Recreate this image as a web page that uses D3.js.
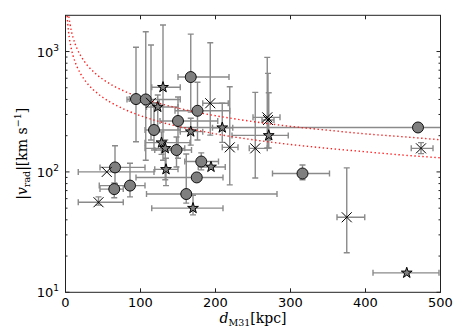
<!DOCTYPE html>
<html><head><meta charset="utf-8">
<script src="https://cdn.jsdelivr.net/npm/d3@7"></script>
<style>body{margin:0;background:#fff}svg{display:block}</style>
</head><body>
<script>
// [d_M31 (kpc), |v_rad| (km/s), dLow, dHigh, vLow, vHigh]
const circles = [
  [94, 403, 85, 103, 178, 1084],
  [107, 400, 82, 153, 125, 1460],
  [167, 614, 150, 218, 314, 1396],
  [176, 322, 146, 219, 184, 555],
  [150, 265, 126, 203, 130, 419],
  [118, 223, 106, 153, 152, 372],
  [148, 152, 119, 168, 110, 195],
  [181, 122, 159, 204, 104, 144],
  [66, 109, 46, 106, 80, 165],
  [175, 90, 94, 210, 84, 97],
  [65, 72, 46, 77, 61, 81],
  [86, 77, 45, 106, 62, 118],
  [161, 65.5, 108, 282, 55, 141],
  [316, 97, 276, 352, 86, 114],
  [470, 234, 150, 560, 234, 234]
];
const stars = [
  [130, 505, 115, 153, 125, 1660],
  [123, 346, 108, 150, 223, 435],
  [167, 216, 153, 183, 167, 279],
  [209, 233, 196, 223, 176, 372],
  [128, 175, 106, 166, 140, 215],
  [133, 157, 106, 159, 86, 184],
  [134, 105, 119, 150, 77, 130],
  [194, 110, 177, 213, 110, 110],
  [170, 50, 115, 210, 44, 64],
  [271, 201, 222, 297, 158, 455],
  [455, 14.5, 410, 498, 14.5, 14.5]
];
const crosses = [
  [193, 372, 183, 217, 202, 1183],
  [219, 160, 209, 230, 78, 510],
  [253, 157, 245, 269, 89, 458],
  [269, 284, 250, 286, 158, 895],
  [270, 270, 262, 278, 184, 659],
  [474, 157, 461, 490, 142, 175],
  [375, 42, 362, 399, 21.3, 108],
  [55, 100, 17, 118, 100, 100],
  [44, 56, 17, 77, 53, 62],
  [114, 375, 105, 125, 184, 1132]
];
// dotted curves: [d, v]
const curveHigh = [[4.5,1955],[6,1693],[8,1466],[10,1311],[13,1150],[16,1037],[20,927],[25,829],[30,757],[40,656],[50,587],[60,535],[80,464],[100,415],[125,371],[150,339],[175,313],[200,293],[250,262],[300,239],[350,222],[400,207],[450,196],[500,185]];
const curveLow = [[2.2,1977],[3,1693],[4,1466],[5,1311],[6.5,1150],[8,1037],[10,927],[12.5,829],[15,757],[20,656],[25,587],[30,535],[40,464],[50,415],[60,379],[80,328],[100,293],[125,262],[150,239],[175,222],[200,207],[250,185],[300,169],[350,157],[400,147],[450,138],[500,131]];
const xTicks = [0, 100, 200, 300, 400, 500];
const yMajor = [10, 100, 1000];
const yMajorExp = ["1", "2", "3"];

const W = 463, H = 333;
const L = 65.5, R = 440.5, T = 15.3, B = 292.3;
const svg = d3.select("body").append("svg").attr("width", W).attr("height", H);
const x = d3.scaleLinear().domain([0, 500]).range([L, R]);
const y = d3.scaleLog().domain([10, 2000]).range([B, T]);

svg.append("clipPath").attr("id", "clip").append("rect")
  .attr("x", L).attr("y", T).attr("width", R - L).attr("height", B - T);
const plot = svg.append("g").attr("clip-path", "url(#clip)");

const ebColor = "#8a8a8a", cap = 3;
function errorbars(data) {
  const g = plot.append("g").attr("stroke", ebColor).attr("stroke-width", 1.4).attr("fill", "none");
  data.forEach(d => {
    const cx = x(d[0]), cy = y(d[1]);
    if (d[2] !== d[3]) {
      const x0 = x(d[2]), x1 = x(d[3]);
      g.append("line").attr("x1", x0).attr("x2", x1).attr("y1", cy).attr("y2", cy);
      g.append("line").attr("x1", x0).attr("x2", x0).attr("y1", cy - cap).attr("y2", cy + cap);
      g.append("line").attr("x1", x1).attr("x2", x1).attr("y1", cy - cap).attr("y2", cy + cap);
    }
    if (d[4] !== d[5]) {
      const y0 = y(d[4]), y1 = y(d[5]);
      g.append("line").attr("x1", cx).attr("x2", cx).attr("y1", y0).attr("y2", y1);
      g.append("line").attr("x1", cx - cap).attr("x2", cx + cap).attr("y1", y0).attr("y2", y0);
      g.append("line").attr("x1", cx - cap).attr("x2", cx + cap).attr("y1", y1).attr("y2", y1);
    }
  });
}
errorbars(circles);
errorbars(stars);
errorbars(crosses);

const line = d3.line().x(d => x(d[0])).y(d => y(d[1])).curve(d3.curveMonotoneX);
[curveHigh, curveLow].forEach(c => {
  plot.append("path").datum(c).attr("d", line).attr("fill", "none")
    .attr("stroke", "#ff2020").attr("stroke-width", 1.4).attr("stroke-dasharray", "1.4,2.6");
});

plot.append("g").selectAll("circle").data(circles).join("circle")
  .attr("cx", d => x(d[0])).attr("cy", d => y(d[1])).attr("r", 5.5)
  .attr("fill", "#7f7f7f").attr("stroke", "#000").attr("stroke-width", 0.9);
const star = d3.symbol().type(d3.symbolStar).size(36);
plot.append("g").selectAll("path").data(stars).join("path")
  .attr("transform", d => `translate(${x(d[0])},${y(d[1])})`).attr("d", star)
  .attr("fill", "#7f7f7f").attr("stroke", "#000").attr("stroke-width", 1);
const xs = 5;
plot.append("g").selectAll("path").data(crosses).join("path")
  .attr("transform", d => `translate(${x(d[0])},${y(d[1])})`)
  .attr("d", `M${-xs},${-xs}L${xs},${xs}M${-xs},${xs}L${xs},${-xs}`)
  .attr("stroke", "#000").attr("stroke-width", 1).attr("fill", "none");

// axes frame
const ax = svg.append("g");
ax.append("rect").attr("x", L).attr("y", T).attr("width", R - L).attr("height", B - T)
  .attr("fill", "none").attr("stroke", "#222").attr("stroke-width", 1);
const tk = ax.append("g").attr("stroke", "#222").attr("stroke-width", 1);
xTicks.forEach(t => {
  tk.append("line").attr("x1", x(t)).attr("x2", x(t)).attr("y1", B).attr("y2", B - 4);
  tk.append("line").attr("x1", x(t)).attr("x2", x(t)).attr("y1", T).attr("y2", T + 4);
});
const yMinor = [];
[10, 100, 1000].forEach(dec => { for (let k = 2; k <= 9; k++) { const v = dec * k; if (v < 2000) yMinor.push(v); } });
yMajor.forEach(t => {
  tk.append("line").attr("x1", L).attr("x2", L + 4).attr("y1", y(t)).attr("y2", y(t));
  tk.append("line").attr("x1", R).attr("x2", R - 4).attr("y1", y(t)).attr("y2", y(t));
});
yMinor.forEach(t => {
  tk.append("line").attr("x1", L).attr("x2", L + 2).attr("y1", y(t)).attr("y2", y(t));
  tk.append("line").attr("x1", R).attr("x2", R - 2).attr("y1", y(t)).attr("y2", y(t));
});

const tf = "'DejaVu Sans', sans-serif";
ax.append("g").selectAll("text").data(xTicks).join("text")
  .attr("x", d => x(d)).attr("y", 307).attr("text-anchor", "middle")
  .attr("font-family", tf).attr("font-size", 13).attr("fill", "#000").text(d => d);
yMajor.forEach((t, i) => {
  const tx = ax.append("text").attr("x", 59).attr("y", y(t) + 5).attr("text-anchor", "end")
    .attr("font-family", tf).attr("font-size", 13).attr("fill", "#000");
  tx.append("tspan").text("10");
  tx.append("tspan").attr("dy", -6).attr("font-size", 9).text(yMajorExp[i]);
});

const sf = "'DejaVu Serif', serif";
const xl = svg.append("text").attr("x", (L + R) / 2).attr("y", 323).attr("text-anchor", "middle")
  .attr("font-family", sf).attr("font-size", 14).attr("fill", "#000");
xl.append("tspan").attr("font-style", "italic").text("d");
xl.append("tspan").attr("font-size", 9.5).attr("dy", 3).text("M31");
xl.append("tspan").attr("dy", -3).text("[kpc]");

const yl = svg.append("text").attr("transform", `translate(27,${(T + B) / 2}) rotate(-90)`)
  .attr("text-anchor", "middle").attr("font-family", sf).attr("font-size", 14).attr("fill", "#000");
yl.append("tspan").text("|");
yl.append("tspan").attr("font-style", "italic").text("v");
yl.append("tspan").attr("font-size", 9.5).attr("dy", 3).text("rad");
yl.append("tspan").attr("dy", -3).text("|[km s");
yl.append("tspan").attr("font-size", 9.5).attr("dy", -6).text("−1");
yl.append("tspan").attr("dy", 6).text("]");
</script>
</body></html>
